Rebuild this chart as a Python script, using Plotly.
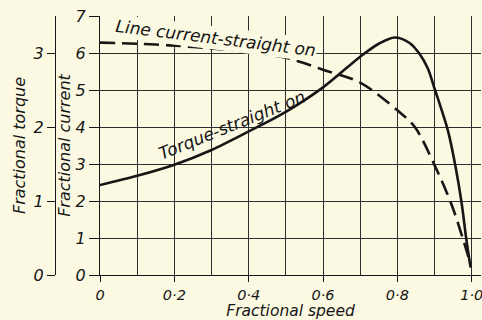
import plotly.graph_objects as go

# ---- data ----
speed_current = [0.0, 0.1, 0.2, 0.3, 0.4, 0.5, 0.6, 0.7, 0.8, 0.847, 0.9, 0.946, 0.98, 0.997]
line_current = [6.28, 6.25, 6.2, 6.12, 6.03, 5.87, 5.55, 5.2, 4.45, 4.0, 2.97, 1.9, 0.86, 0.28]

speed_torque = [0.0, 0.1, 0.2, 0.3, 0.4, 0.5, 0.6, 0.7, 0.75, 0.793, 0.833, 0.86, 0.882,
                0.9, 0.936, 0.957, 0.973, 0.985, 0.997]
torque = [1.215, 1.34, 1.49, 1.69, 1.94, 2.205, 2.535, 2.95, 3.125, 3.21, 3.135, 2.985, 2.79,
          2.52, 1.95, 1.45, 0.97, 0.5, 0.1]

x_tick_vals = [0, 0.2, 0.4, 0.6, 0.8, 1.0]
x_tick_text = ["0", "0·2", "0·4", "0·6", "0·8", "1·0"]
current_ticks = [0, 1, 2, 3, 4, 5, 6, 7]
torque_ticks = [0, 1, 2, 3]

INK = "#161616"
GRID = "#2e2e2e"
BG = "#fbf9e2"
FONT = dict(family="DejaVu Sans", size=16, color=INK, style="italic")

fig = go.Figure()
fig.add_trace(go.Scatter(
    x=speed_current, y=line_current, mode="lines", name="Line current-straight on",
    line=dict(color=INK, width=2.6, dash="15px,7px", shape="spline", smoothing=0.9),
    yaxis="y", showlegend=False,
))
fig.add_trace(go.Scatter(
    x=speed_torque, y=torque, mode="lines", name="Torque-straight on",
    line=dict(color=INK, width=2.6, shape="spline", smoothing=0.9),
    yaxis="y2", showlegend=False,
))

L, R = 10, 1
W = 482
plot_w = W - L - R
x0_px = 100
dom_start = (x0_px - L) / plot_w
torque_pos = (55 - L) / plot_w

fig.update_layout(
    width=482, height=320,
    margin=dict(l=L, r=R, t=16, b=45),
    paper_bgcolor=BG, plot_bgcolor=BG,
    font=FONT,
    xaxis=dict(
        domain=[dom_start, 1], range=[0, 1.025], automargin=False,
        tickvals=x_tick_vals, ticktext=x_tick_text, ticklabeloverflow="allow",
        ticks="outside", ticklen=6, tickcolor=INK, tickwidth=1.2,
        showgrid=True, gridcolor=GRID, gridwidth=1.2,
        minor=dict(dtick=0.1, tick0=0, showgrid=True, gridcolor=GRID, gridwidth=1.2, ticks=""),
        showline=True, linecolor=INK, linewidth=1.4, zeroline=False,
        tickfont=dict(size=14.5),
        title=dict(text="Fractional speed", font=dict(size=15.5), standoff=5),
    ),
    yaxis=dict(
        range=[0, 7], tickvals=current_ticks, anchor="x", automargin=False,
        ticks="outside", ticklen=10, tickcolor=INK, tickwidth=1.2,
        showgrid=True, gridcolor=GRID, gridwidth=1.2,
        showline=True, linecolor=INK, linewidth=1.4, zeroline=False,
        tickfont=dict(size=16),
        title=dict(text="Fractional current", font=dict(size=16), standoff=0),
    ),
    yaxis2=dict(
        range=[0, 3.5], tickvals=torque_ticks, overlaying="y", anchor="free",
        position=torque_pos, side="left", automargin=False,
        ticks="outside", ticklen=8, tickcolor=INK, tickwidth=1.2,
        showgrid=False, showline=True, linecolor=INK, linewidth=1.4, zeroline=False,
        tickfont=dict(size=16),
        title=dict(text="Fractional torque", font=dict(size=16), standoff=2),
    ),
)

fig.add_annotation(x=0.31, y=6.4, xref="x", yref="y", text="Line current-straight on",
                   showarrow=False, textangle=7, font=dict(size=17), bgcolor=BG)
fig.add_annotation(x=0.355, y=4.05, xref="x", yref="y", text="Torque-straight on",
                   showarrow=False, textangle=-22, font=dict(size=17))

fig.write_html(
    "out.html",
    config={"displayModeBar": False},
    post_script="document.body.style.margin='0';document.body.style.background='%s';" % BG,
)
